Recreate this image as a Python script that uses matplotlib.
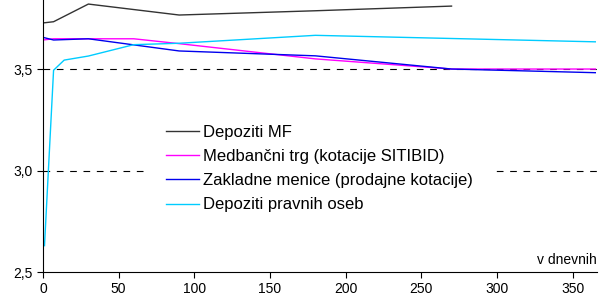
import matplotlib.pyplot as plt
from matplotlib.ticker import FuncFormatter

plt.rcParams['font.family'] = ['Liberation Sans', 'DejaVu Sans']

# rok v dnevih in obrestne mere
mf_x = [0, 7, 30, 90, 180, 270]
mf_y = [3.727, 3.733, 3.82, 3.766, 3.787, 3.81]

mt_x = [0, 7, 30, 60, 90, 180, 270, 365]
mt_y = [3.643, 3.649, 3.649, 3.649, 3.625, 3.55, 3.50, 3.50]

zm_x = [0, 7, 30, 90, 180, 270, 365]
zm_y = [3.656, 3.643, 3.649, 3.589, 3.565, 3.50, 3.482]

po_x = [1, 7, 14, 30, 60, 90, 180, 365]
po_y = [2.63, 3.494, 3.544, 3.564, 3.62, 3.627, 3.666, 3.634]

labels = ["Depoziti MF", "Medbančni trg (kotacije SITIBID)",
          "Zakladne menice (prodajne kotacije)", "Depoziti pravnih oseb"]

fig = plt.figure(figsize=(6.14, 2.98), dpi=100)
ax = fig.add_axes([0.070, 0.087, 0.902, 0.913])

ax.plot(mf_x, mf_y, color='#333333', lw=1, label=labels[0])
ax.plot(mt_x, mt_y, color='#ff00ff', lw=1, label=labels[1])
ax.plot(zm_x, zm_y, color='#0000ee', lw=1, label=labels[2])
ax.plot(po_x, po_y, color='#00ccff', lw=1, label=labels[3])

for g in [3.0, 3.5]:
    ax.axhline(g, color='black', lw=0.8, ls=(0, (6, 6)), zorder=0)

ax.set_xlim(0, 366)
ax.set_ylim(2.5, 3.84)
ax.set_xticks(range(0, 351, 50))
ax.set_yticks([2.5, 3.0, 3.5])
ax.yaxis.set_major_formatter(FuncFormatter(lambda v, p: f"{v:.1f}".replace('.', ',')))
ax.tick_params(labelsize=10, direction='out', length=4, width=0.8)
ax.tick_params(axis='x', pad=3)
for s in ['top', 'right']:
    ax.spines[s].set_visible(False)
for s in ['left', 'bottom']:
    ax.spines[s].set_linewidth(0.8)

ax.text(1.0, 0.02, "v dnevnih", transform=ax.transAxes, ha='right', va='bottom', fontsize=10)

leg = ax.legend(loc='upper left', bbox_to_anchor=(0.171, 0.645), fontsize=12,
                frameon=True, fancybox=False, edgecolor='none', facecolor='white',
                framealpha=1, handlelength=2.0, handletextpad=0.2, labelspacing=0.55,
                borderpad=1.2)

fig.savefig('out.png', dpi=100)
